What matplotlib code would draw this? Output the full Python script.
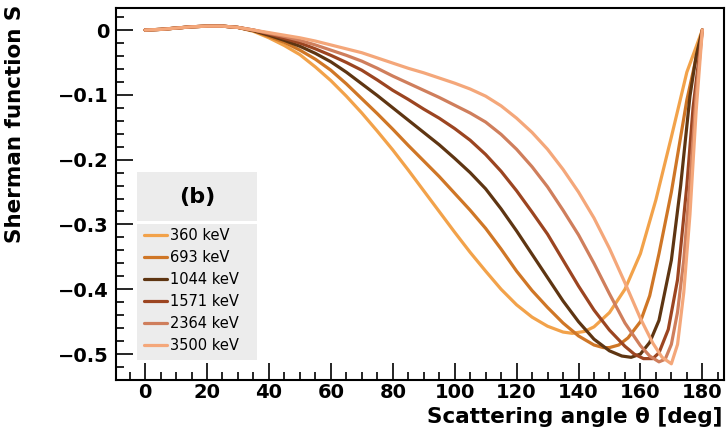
import matplotlib.pyplot as plt
from matplotlib.patches import Rectangle
from matplotlib.ticker import MultipleLocator

# Scattering angle grid (deg) and Sherman function values
theta_360 = [0, 5, 10, 15, 20, 25, 30, 35, 40, 45, 50, 55, 60, 65, 70, 75, 80, 85, 90, 95,
             100, 105, 110, 115, 120, 125, 130, 135, 138, 142, 145, 150, 155, 160, 165,
             170, 175, 180]
s_360 = [0, 0.001, 0.003, 0.005, 0.006, 0.006, 0.004, -0.002, -0.012, -0.024, -0.038,
         -0.057, -0.078, -0.102, -0.128, -0.156, -0.185, -0.216, -0.248, -0.280, -0.312,
         -0.343, -0.372, -0.400, -0.424, -0.443, -0.457, -0.466, -0.468, -0.465, -0.458,
         -0.436, -0.400, -0.345, -0.262, -0.165, -0.065, 0]

theta_693 = [0, 5, 10, 15, 20, 25, 30, 35, 40, 45, 50, 55, 60, 65, 70, 75, 80, 85, 90, 95,
             100, 105, 110, 115, 120, 125, 130, 135, 140, 145, 148, 150, 153, 156, 160,
             163, 166, 170, 175, 180]
s_693 = [0, 0.001, 0.003, 0.005, 0.006, 0.006, 0.004, -0.001, -0.010, -0.019, -0.031,
         -0.045, -0.062, -0.083, -0.106, -0.129, -0.153, -0.178, -0.202, -0.226, -0.252,
         -0.278, -0.306, -0.338, -0.372, -0.402, -0.428, -0.452, -0.472, -0.486, -0.490,
         -0.490, -0.486, -0.475, -0.450, -0.410, -0.345, -0.250, -0.108, 0]

theta_1044 = [0, 5, 10, 15, 20, 25, 30, 35, 40, 45, 50, 55, 60, 65, 70, 75, 80, 85, 90,
              95, 100, 105, 110, 115, 120, 125, 130, 135, 140, 145, 150, 154, 157, 160,
              163, 166, 170, 173, 176, 178, 180]
s_1044 = [0, 0.001, 0.003, 0.005, 0.006, 0.006, 0.004, -0.001, -0.008, -0.016, -0.025,
          -0.036, -0.049, -0.065, -0.083, -0.101, -0.120, -0.139, -0.158, -0.177, -0.198,
          -0.220, -0.245, -0.276, -0.310, -0.346, -0.382, -0.418, -0.450, -0.477, -0.495,
          -0.503, -0.505, -0.500, -0.482, -0.448, -0.355, -0.240, -0.102, -0.040, 0]

theta_1571 = [0, 5, 10, 15, 20, 25, 30, 35, 40, 45, 50, 55, 60, 65, 70, 75, 80, 85, 90,
              95, 100, 105, 110, 115, 120, 125, 130, 135, 140, 145, 150, 155, 158, 161,
              164, 166, 169, 172, 175, 177, 180]
s_1571 = [0, 0.001, 0.003, 0.005, 0.006, 0.006, 0.004, 0.000, -0.006, -0.013, -0.020,
          -0.029, -0.039, -0.050, -0.062, -0.077, -0.093, -0.107, -0.122, -0.136, -0.152,
          -0.170, -0.192, -0.218, -0.248, -0.281, -0.315, -0.355, -0.395, -0.432, -0.463,
          -0.488, -0.500, -0.507, -0.507, -0.498, -0.462, -0.385, -0.240, -0.120, 0]

theta_2364 = [0, 5, 10, 15, 20, 25, 30, 35, 40, 45, 50, 55, 60, 65, 70, 75, 80, 85, 90,
              95, 100, 105, 110, 115, 120, 125, 130, 135, 140, 145, 150, 155, 160, 163,
              166, 168, 170, 172, 174, 176, 178, 180]
s_2364 = [0, 0.001, 0.003, 0.005, 0.006, 0.006, 0.004, 0.000, -0.005, -0.010, -0.016,
          -0.023, -0.031, -0.039, -0.048, -0.059, -0.071, -0.082, -0.093, -0.104, -0.116,
          -0.128, -0.142, -0.161, -0.184, -0.211, -0.242, -0.278, -0.316, -0.360, -0.407,
          -0.452, -0.487, -0.503, -0.512, -0.508, -0.485, -0.435, -0.355, -0.235, -0.100, 0]

theta_3500 = [0, 5, 10, 15, 20, 25, 30, 35, 40, 45, 50, 55, 60, 65, 70, 75, 80, 85, 90,
              95, 100, 105, 110, 115, 120, 125, 130, 135, 140, 145, 150, 155, 160, 164,
              167, 170, 172, 174, 176, 178, 180]
s_3500 = [0, 0.001, 0.003, 0.005, 0.006, 0.006, 0.004, 0.000, -0.004, -0.008, -0.012,
          -0.017, -0.023, -0.029, -0.035, -0.043, -0.051, -0.059, -0.066, -0.074, -0.082,
          -0.091, -0.102, -0.117, -0.136, -0.158, -0.184, -0.215, -0.250, -0.290, -0.337,
          -0.390, -0.445, -0.483, -0.505, -0.515, -0.485, -0.405, -0.285, -0.125, 0]

labels = ['360 keV', '693 keV', '1044 keV', '1571 keV', '2364 keV', '3500 keV']
colors = ['#f2a24a', '#cf7626', '#5e3512', '#9c4521', '#cf7e5c', '#f4a77a']
thetas = [theta_360, theta_693, theta_1044, theta_1571, theta_2364, theta_3500]
values = [s_360, s_693, s_1044, s_1571, s_2364, s_3500]

plt.rcParams['font.family'] = ['DejaVu Sans']

fig = plt.figure(figsize=(7.26, 4.38), dpi=100)
ax = fig.add_axes([116 / 726, 1 - 380 / 438, 608 / 726, 372 / 438])

handles = []
for th, s, c, lab in zip(thetas, values, colors, labels):
    h, = ax.plot(th, s, color=c, lw=2.3, label=lab, solid_capstyle='round',
                 solid_joinstyle='round')
    handles.append(h)

ax.set_xlim(-9.4, 187)
ax.set_ylim(-0.54, 0.034)

ax.xaxis.set_major_locator(MultipleLocator(20))
ax.xaxis.set_minor_locator(MultipleLocator(5))
ax.yaxis.set_minor_locator(MultipleLocator(0.02))
ax.tick_params(which='both', direction='in', top=False, right=False, width=1.2,
               labelsize=14)
ax.tick_params(which='major', length=12)
ax.tick_params(which='minor', length=6)
ax.tick_params(axis='x', which='major', pad=2)
ax.tick_params(axis='y', which='major', pad=5)
ax.set_yticks([0, -0.1, -0.2, -0.3, -0.4, -0.5])
ax.set_yticklabels(['0', '\u22120.1', '\u22120.2', '\u22120.3', '\u22120.4', '\u22120.5'])
for lbl in ax.get_xticklabels() + ax.get_yticklabels():
    lbl.set_fontweight('bold')
for sp in ax.spines.values():
    sp.set_linewidth(1.5)

ax.set_xlabel('Scattering angle \u03b8 [deg]', fontsize=15.5, fontweight='bold',
              loc='right')
ax.xaxis.set_label_coords(0.998, -0.072)
ax.set_ylabel('Sherman function S', fontsize=15.5, fontweight='bold', loc='top')
ax.yaxis.set_label_coords(-0.150, 1.008)

# legend: header box "(b)" and entries box
ax.add_patch(Rectangle((0.0345, 0.427), 0.1975, 0.132, transform=ax.transAxes,
                       facecolor='#ececec', edgecolor='none', zorder=3))
ax.add_patch(Rectangle((0.0345, 0.054), 0.1975, 0.365, transform=ax.transAxes,
                       facecolor='#ececec', edgecolor='none', zorder=3))
ax.text(0.133, 0.493, '(b)', transform=ax.transAxes, ha='center', va='center',
        fontsize=16, fontweight='bold', zorder=4)

leg = ax.legend(handles=handles, loc='upper left', bbox_to_anchor=(0.0345, 0.427),
                frameon=False, fontsize=10.5, handlelength=1.6, handletextpad=0.2,
                labelspacing=0.48, borderpad=0.45, borderaxespad=0)
leg.set_zorder(4)

fig.savefig('out.png', dpi=100)
